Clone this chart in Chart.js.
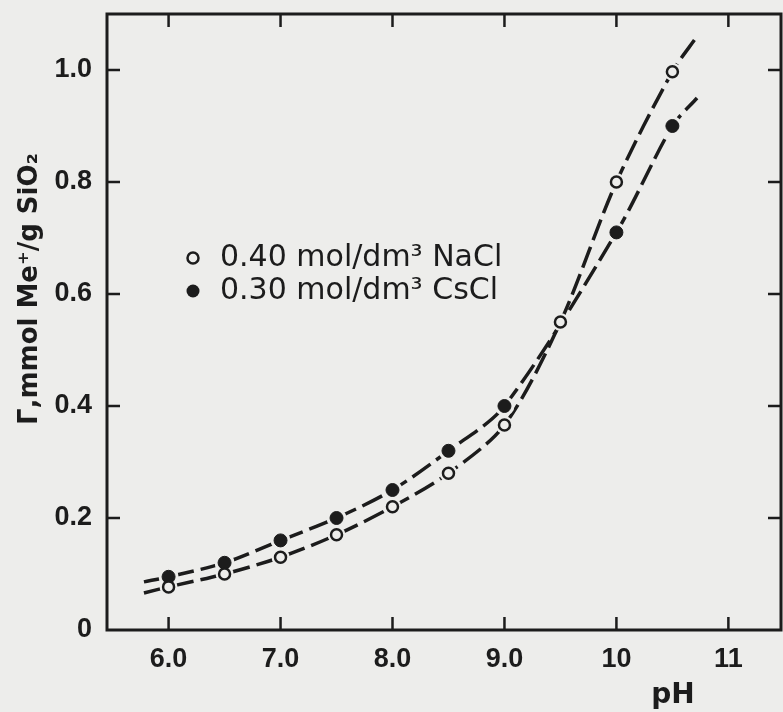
<!DOCTYPE html>
<html>
<head>
<meta charset="utf-8">
<script src="https://cdn.jsdelivr.net/npm/chart.js@4.4.1/dist/chart.umd.min.js"></script>
<style>
  body { margin: 0; background: #ededeb; }
  canvas { display: block; }
</style>
</head>
<body>
<canvas id="myChart" width="783" height="712"></canvas>
<script>
let phNaCl = [6.0, 6.5, 7.0, 7.5, 8.0, 8.5, 9.0, 9.5, 10.0, 10.5];
let gammaNaCl = [0.077, 0.10, 0.13, 0.17, 0.22, 0.28, 0.366, 0.55, 0.80, 0.997];
let phCsCl = [6.0, 6.5, 7.0, 7.5, 8.0, 8.5, 9.0, 10.0, 10.5];
let gammaCsCl = [0.095, 0.12, 0.16, 0.20, 0.25, 0.32, 0.40, 0.71, 0.90];
// where the hand drawn curves start and stop, past the measured points
let curveEndsPh = [5.78, 10.72];
let curveEndsNaCl = [0.066, 1.06];
let curveEndsCsCl = [0.086, 0.95];
let xTicks = [6, 7, 8, 9, 10, 11];
let xTickLabels = ['6.0', '7.0', '8.0', '9.0', '10', '11'];
let yTicks = [0, 0.2, 0.4, 0.6, 0.8, 1.0];
let yTickLabels = ['0', '0.2', '0.4', '0.6', '0.8', '1.0'];
let seriesLabels = ['0.40 mol/dm\u00B3 NaCl', '0.30 mol/dm\u00B3 CsCl'];

let ink = '#1c1c1c';
let paper = '#ededeb';

function toPoints(xs, ys) {
  return xs.map((x, i) => ({ x: x, y: ys[i] }));
}
function toCurve(xs, ys, ends) {
  let pts = toPoints(xs, ys);
  pts.unshift({ x: curveEndsPh[0], y: ends[0] });
  pts.push({ x: curveEndsPh[1], y: ends[1] });
  return pts;
}

let tickFont = { family: '"Liberation Sans", Arial, sans-serif', size: 27, weight: 'bold' };

let extras = {
  id: 'extras',
  afterDraw(chart) {
    let ctx = chart.ctx;
    let a = chart.chartArea;
    let xs = chart.scales.x, ys = chart.scales.y;
    ctx.save();
    ctx.strokeStyle = ink;
    ctx.fillStyle = ink;
    ctx.lineWidth = 3;
    ctx.strokeRect(a.left, a.top, a.right - a.left, a.bottom - a.top);

    // inward tick marks on all four sides
    ctx.lineWidth = 2.5;
    ctx.beginPath();
    xTicks.forEach(v => {
      let px = xs.getPixelForValue(v);
      ctx.moveTo(px, a.bottom); ctx.lineTo(px, a.bottom - 13);
      ctx.moveTo(px, a.top); ctx.lineTo(px, a.top + 13);
    });
    yTicks.slice(1).forEach(v => {
      let py = ys.getPixelForValue(v);
      ctx.moveTo(a.left, py); ctx.lineTo(a.left + 13, py);
      ctx.moveTo(a.right, py); ctx.lineTo(a.right - 13, py);
    });
    ctx.stroke();

    // legend
    ctx.font = '30px "DejaVu Sans", sans-serif';
    ctx.textBaseline = 'middle';
    ctx.textAlign = 'left';
    ctx.lineWidth = 2.5;
    ctx.beginPath();
    ctx.arc(193, 258, 5.5, 0, Math.PI * 2);
    ctx.fillStyle = paper;
    ctx.fill();
    ctx.stroke();
    ctx.fillStyle = ink;
    ctx.beginPath();
    ctx.arc(193, 291, 6.5, 0, Math.PI * 2);
    ctx.fill();
    ctx.fillText(seriesLabels[0], 220, 258);
    ctx.fillText(seriesLabels[1], 220, 291);

    // y axis title
    ctx.save();
    ctx.translate(30, 289);
    ctx.rotate(-Math.PI / 2);
    ctx.textAlign = 'center';
    ctx.font = 'bold 26px "DejaVu Sans", sans-serif';
    ctx.fillText('\u0393,mmol Me\u207A/g SiO\u2082', 0, 0);
    ctx.restore();

    // x axis title
    ctx.textAlign = 'center';
    ctx.font = 'bold 28px "DejaVu Sans", sans-serif';
    ctx.fillText('pH', 673, 696);
    ctx.restore();
  }
};

let myChart = document.getElementById('myChart').getContext('2d');
let chart = new Chart(myChart, {
  type: 'scatter',
  data: {
    datasets: [
      {
        label: seriesLabels[0],
        data: toPoints(phNaCl, gammaNaCl),
        pointRadius: 5.5,
        pointBackgroundColor: paper,
        pointBorderColor: ink,
        pointBorderWidth: 2.5,
        showLine: false
      },
      {
        label: seriesLabels[1],
        data: toPoints(phCsCl, gammaCsCl),
        pointRadius: 6.5,
        pointBackgroundColor: ink,
        pointBorderColor: ink,
        pointBorderWidth: 1,
        showLine: false
      },
      {
        data: toPoints(phNaCl, gammaNaCl),
        pointRadius: 9,
        pointBackgroundColor: paper,
        pointBorderWidth: 0,
        showLine: false
      },
      {
        data: toPoints(phCsCl, gammaCsCl),
        pointRadius: 10,
        pointBackgroundColor: paper,
        pointBorderWidth: 0,
        showLine: false
      },
      {
        data: toCurve(phNaCl, gammaNaCl, curveEndsNaCl),
        showLine: true,
        pointRadius: 0,
        borderColor: ink,
        borderWidth: 3.5,
        borderDash: [22, 7],
        tension: 0.3
      },
      {
        data: toCurve(phCsCl, gammaCsCl, curveEndsCsCl),
        showLine: true,
        pointRadius: 0,
        borderColor: ink,
        borderWidth: 3.5,
        borderDash: [22, 7],
        tension: 0.3
      }
    ]
  },
  options: {
    responsive: false,
    animation: false,
    events: [],
    layout: { autoPadding: false, padding: { top: 14, right: 2, left: 0, bottom: 0 } },
    plugins: {
      legend: { display: false },
      tooltip: { enabled: false }
    },
    scales: {
      x: {
        type: 'linear',
        min: 5.45,
        max: 11.47,
        afterBuildTicks: s => { s.ticks = xTicks.map(v => ({ value: v })); },
        afterFit: s => { s.height = 82; s.paddingLeft = 0; s.paddingRight = 0; },
        grid: { display: false },
        border: { display: false },
        ticks: {
          color: ink,
          font: tickFont,
          padding: 5,
          maxRotation: 0,
          autoSkip: false,
          callback: (v) => xTickLabels[xTicks.indexOf(v)]
        }
      },
      y: {
        min: 0,
        max: 1.1,
        afterBuildTicks: s => { s.ticks = yTicks.map(v => ({ value: v })); },
        afterFit: s => { s.width = 107; s.paddingTop = 0; s.paddingBottom = 0; },
        grid: { display: false },
        border: { display: false },
        ticks: {
          color: ink,
          font: tickFont,
          padding: 7,
          autoSkip: false,
          callback: (v) => yTickLabels[yTicks.indexOf(v)]
        }
      }
    }
  },
  plugins: [extras]
});
</script>
</body>
</html>
